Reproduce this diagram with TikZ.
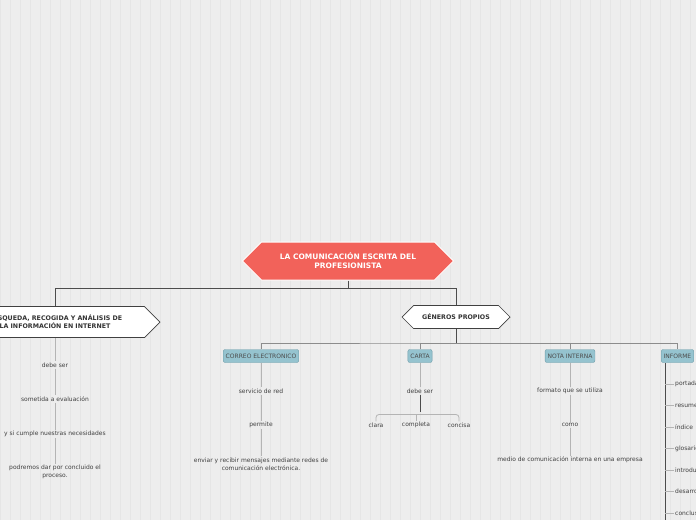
\documentclass[tikz,border=0pt]{standalone}
\usepackage{fontspec}
\setmainfont{DejaVu Sans}
\usetikzlibrary{shapes.symbols,backgrounds}
\definecolor{titlered}{HTML}{F2625A}
\definecolor{topicblue}{HTML}{95C3CF}
\definecolor{topicedge}{HTML}{6E9CA8}
\definecolor{linkgray}{HTML}{B4B4B4}

\begin{document}
\begin{tikzpicture}[x=1pt,y=-1pt,
    central/.style={signal, signal to=east and west, fill=titlered, draw=white, line width=1pt,
      text=white, font=\fontsize{7.5}{9}\selectfont\bfseries, align=center, inner sep=5pt, minimum height=38pt},
    mainbox/.style={signal, signal to=east and west, fill=white, draw=black!75, line width=0.7pt,
      text=black!80, font=\fontsize{6.3}{8}\selectfont\bfseries, align=center, inner sep=4pt},
    topic/.style={draw=topicedge, fill=topicblue, rounded corners=2pt, text=black!70,
      font=\fontsize{6}{7}\selectfont, inner sep=2.5pt, minimum height=13pt},
    leaf/.style={text=black!75, font=\fontsize{6}{8}\selectfont, align=center, inner sep=1pt},
    link/.style={draw=linkgray, line width=0.8pt},
    trunk/.style={draw=black!70, line width=0.9pt}
    ]
    \clip (0,0) rectangle (696,520);
    \useasboundingbox (0,0) rectangle (696,520);
    \fill[black!7] (0,0) rectangle (696,520);
    \draw[black!10, line width=0.4pt] (0,0) grid[step=10] (696,520);

    % main nodes
    \node[central, minimum width=211pt] (root) at (348,261) {LA COMUNICACIÓN ESCRITA DEL\\PROFESIONISTA};
    \node[mainbox, minimum width=210pt, minimum height=31pt] (search) at (55,322) {BÚSQUEDA, RECOGIDA Y ANÁLISIS DE\\LA INFORMACIÓN EN INTERNET};
    \node[mainbox, minimum width=108pt, minimum height=23pt] (genres) at (456,317) {GÉNEROS PROPIOS};

    \coordinate (rj) at (348,288);
    \draw[trunk] (root.south) -- (rj) -| (search.north);
    \draw[trunk] (rj) -| (genres.north);

    % topics
    \node[topic] (mail) at (261,356) {CORREO ELECTRONICO};
    \node[topic] (letter) at (420,356) {CARTA};
    \node[topic] (memo) at (570,356) {NOTA INTERNA};
    \node[topic, anchor=west] (report) at (661,356) {INFORME};
    \coordinate (gj) at (456,343);
    \draw[trunk] (genres.south) -- (gj);
    \draw[black!45, line width=0.8pt] (mail.north) |- (gj) -| (report.north);
    \draw[black!45, line width=0.8pt] (letter.north) |- (gj);
    \draw[black!45, line width=0.8pt] (memo.north) |- (gj);

    % search chain
    \node[leaf] (s1) at (55,365) {debe ser};
    \node[leaf] (s2) at (55,399) {sometida a evaluación};
    \node[leaf] (s3) at (55,434) {y si cumple nuestras necesidades};
    \node[leaf] (s4) at (55,472) {podremos dar por concluido el\\proceso.};
    \draw[link] (search.south) -- (s1);
    \draw[link] (s1) -- (s2);
    \draw[link] (s2) -- (s3);
    \draw[link] (s3) -- (s4);

    % mail chain
    \node[leaf] (m1) at (261,391) {servicio de red};
    \node[leaf] (m2) at (261,425) {permite};
    \node[leaf] (m3) at (261,464) {enviar y recibir mensajes mediante redes de\\comunicación electrónica.};
    \draw[link] (mail) -- (m1);
    \draw[link] (m1) -- (m2);
    \draw[link] (m2) -- (m3);

    % letter
    \node[leaf] (l1) at (420,391) {debe ser};
    \node[leaf] (clear) at (376,425) {clara};
    \node[leaf] (full) at (416,425) {completa};
    \node[leaf] (short) at (459,425) {concisa};
    \coordinate (lj) at (420,412);
    \draw[link] (letter) -- (l1);
    \draw[black!70, line width=0.8pt] (l1) -- (lj);
    \draw[link, rounded corners=3pt] (clear.north) -- ++(0,-7) -| (short.north);
    \draw[link] (full.north) -- ++(0,-7);

    % memo
    \node[leaf] (n1) at (570,391) {formato que se utiliza};
    \node[leaf] (n2) at (570,425) {como};
    \node[leaf] (n3) at (570,460) {medio de comunicación interna en una empresa};
    \draw[link] (memo) -- (n1);
    \draw[link] (n1) -- (n2);
    \draw[link] (n2) -- (n3);

    % report list
    \coordinate (rs) at (665,363);
    \draw[black!70, line width=0.8pt] (rs) -- (665,520);
    \foreach \txt [count=\i] in {portada,resumen,índice,glosario,introducción,desarrollo,conclusiones} {
      \node[leaf, anchor=west] (r\i) at (674,{384+21.5*(\i-1)}) {\txt};
      \draw[link] (665,{384+21.5*(\i-1)}) -- (r\i.west);
    }
\end{tikzpicture}
\end{document}
